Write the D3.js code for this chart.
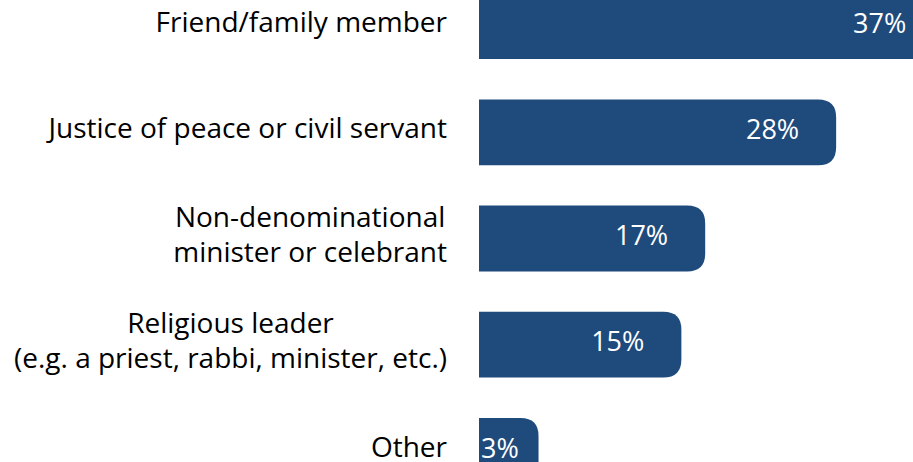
<html lang="en">

<head>
  <meta charset="utf-8">
  <title>Officiant bar chart</title>
  <script type="text/javascript" src="https://d3js.org/d3.v7.min.js"></script>
  <style>
    body { margin: 0; background: #fff; }
    text { font-family: "Open Sans", "Noto Sans", sans-serif; }
  </style>
</head>

<body>
  <svg width="913" height="462"></svg>
  <script>
    const categories = [
      ["Friend/family member"],
      ["Justice of peace or civil servant"],
      ["Non-denominational", "minister or celebrant"],
      ["Religious leader", "(e.g. a priest, rabbi, minister, etc.)"],
      ["Other"]
    ];
    const values = [37, 28, 17, 15, 3];
    const valueLabels = ["37%", "28%", "17%", "15%", "3%"];

    const svg = d3.select("svg");
    const barColor = "#1f4a7c";
    const radius = 18;

    const x = d3.scaleLinear()
      .domain([-2, 40])
      .range([479, 979]);

    const y = d3.scaleBand()
      .domain(d3.range(values.length))
      .range([-27, 504])
      .paddingInner(0.38)
      .paddingOuter(0.19);

    // bar with rounded right end
    function barPath(i) {
      const x0 = x(-2), x1 = x(values[i]);
      const y0 = y(i), h = y.bandwidth();
      const r = Math.min(radius, (x1 - x0) / 2);
      return "M" + x0 + "," + y0 +
        "H" + (x1 - r) +
        "Q" + x1 + "," + y0 + " " + x1 + "," + (y0 + r) +
        "V" + (y0 + h - r) +
        "Q" + x1 + "," + (y0 + h) + " " + (x1 - r) + "," + (y0 + h) +
        "H" + x0 + "Z";
    }

    svg.selectAll("path.bar")
      .data(values)
      .enter()
      .append("path")
      .attr("class", "bar")
      .attr("d", (d, i) => barPath(i))
      .attr("fill", barColor);

    const vals = svg.selectAll("text.val")
      .data(values)
      .enter()
      .append("text")
      .attr("class", "val")
      .attr("y", (d, i) => y(i) + y.bandwidth() / 2 - 3)
      .attr("dy", "0.36em")
      .attr("fill", "#fff")
      .attr("font-size", 27)
      .text((d, i) => valueLabels[i]);

    vals.each(function (d, i) {
      const w = this.getComputedTextLength();
      const end = Math.max(x(d) - 37, x(-2) + 2 + w);
      d3.select(this).attr("x", end).attr("text-anchor", "end");
    });

    // category labels, each block right-aligned, lines centred in block
    const labelRight = 447;
    const lineH = 35;
    categories.forEach((lines, i) => {
      const g = svg.append("g");
      const cy = y(i) + y.bandwidth() / 2 - 4;
      const texts = g.selectAll("text")
        .data(lines)
        .enter()
        .append("text")
        .attr("font-size", 28)
        .attr("fill", "#000")
        .attr("y", (d, j) => cy + (j - (lines.length - 1) / 2) * lineH)
        .attr("dy", "0.36em")
        .attr("text-anchor", "middle")
        .text(d => d);
      let maxW = 0;
      texts.each(function () { maxW = Math.max(maxW, this.getComputedTextLength()); });
      texts.attr("x", labelRight - maxW / 2);
    });
  </script>
</body>

</html>
